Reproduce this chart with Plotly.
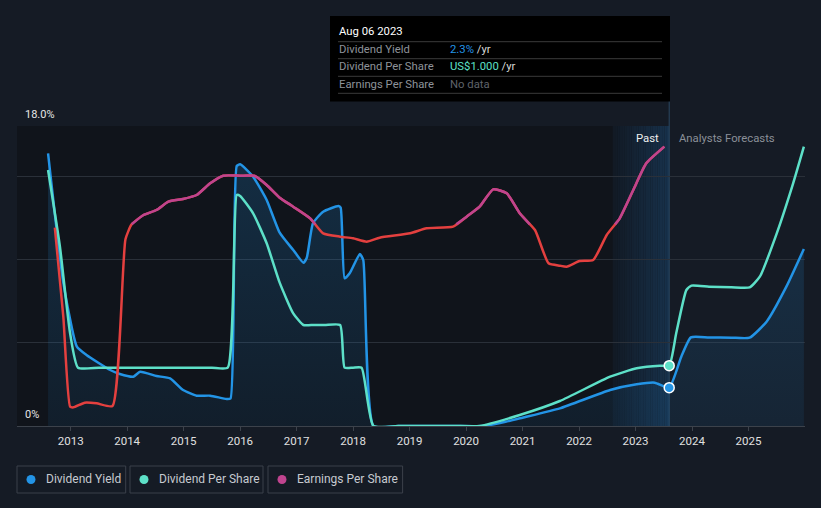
import plotly.graph_objects as go

# ---------------- data ----------------
# Dividend yield (%), past
yield_x = [2012.60, 2012.87, 2013.11, 2013.28, 2013.70, 2013.87, 2014.11, 2014.23, 2014.52,
           2014.76, 2014.99, 2015.23, 2015.47, 2015.76, 2015.83, 2015.94, 2016.00, 2016.23,
           2016.47, 2016.70, 2016.94, 2017.12, 2017.18, 2017.29, 2017.47, 2017.74, 2017.78,
           2017.85, 2017.94, 2018.12, 2018.18, 2018.36, 2018.8, 2019.3, 2019.8, 2020.30,
           2020.70, 2021.00, 2021.66, 2022.55, 2023.02, 2023.34, 2023.596]
yield_y = [16.36, 8.6, 4.76, 4.26, 3.36, 3.12, 2.96, 3.26, 3.0,
           2.86, 2.16, 1.82, 1.82, 1.62, 1.65, 15.6, 15.7, 14.96,
           13.56, 11.6, 10.56, 9.8, 10.1, 12.16, 12.86, 13.2, 13.1,
           8.86, 9.16, 10.32, 9.96, 0.0, 0.0, 0.0, 0.0, 0.0,
           0.25, 0.5, 1.06, 2.16, 2.5, 2.6, 2.3]
# Dividend yield (%), analyst forecast
yield_fc_x = [2023.81, 2023.98, 2024.3, 2024.7, 2025.02, 2025.32, 2025.67, 2025.98]
yield_fc_y = [4.16, 5.32, 5.31, 5.30, 5.30, 6.26, 8.36, 10.62]

# Dividend per share (US$), past
dps_x = [2012.60, 2012.81, 2012.99, 2013.13, 2013.5, 2014.0, 2014.5, 2015.0, 2015.5, 2015.78,
         2015.94, 2016.00, 2016.23, 2016.47, 2016.70, 2016.94, 2017.12, 2017.3, 2017.5, 2017.77,
         2017.85, 2018.0, 2018.15, 2018.36, 2018.8, 2019.3, 2019.8, 2020.24, 2020.95,
         2021.66, 2022.55, 2023.02, 2023.43, 2023.596]
dps_y = [4.243, 2.972, 1.536, 0.967, 0.967, 0.967, 0.967, 0.967, 0.967, 0.967,
         3.829, 3.812, 3.525, 3.028, 2.376, 1.867, 1.674, 1.674, 1.674, 1.674,
         0.967, 0.967, 0.967, 0.0, 0.0, 0.0, 0.0, 0.0, 0.182,
         0.414, 0.818, 0.956, 1.000, 1.000]
# Dividend per share (US$), analyst forecast
dps_fc_x = [2023.72, 2023.90, 2023.99, 2024.3, 2024.7, 2025.02, 2025.20, 2025.50, 2025.79, 2025.98]
dps_fc_y = [1.536, 2.254, 2.326, 2.31, 2.30, 2.298, 2.475, 3.193, 4.022, 4.630]

# Earnings per share (relative chart units)
eps_x = [2012.72, 2012.87, 2012.99, 2013.05, 2013.25, 2013.46, 2013.74, 2013.97, 2014.08,
         2014.29, 2014.52, 2014.73, 2014.99, 2015.23, 2015.47, 2015.70, 2016.00, 2016.26,
         2016.47, 2016.70, 2016.94, 2017.24, 2017.47, 2017.77, 2018.00, 2018.24, 2018.47,
         2019.01, 2019.30, 2019.77, 2020.01, 2020.24, 2020.48, 2020.72, 2020.95, 2021.22,
         2021.46, 2021.66, 2021.78, 2022.01, 2022.25, 2022.49, 2022.72, 2022.96, 2023.19,
         2023.51]
eps_y = [11.9, 6.56, 1.16, 1.12, 1.4, 1.36, 1.2, 11.2, 12.1,
         12.66, 12.96, 13.46, 13.62, 13.86, 14.56, 15.02, 15.02, 15.0,
         14.46, 13.7, 13.16, 12.46, 11.56, 11.36, 11.26, 11.06, 11.3,
         11.56, 11.86, 11.96, 12.56, 13.16, 14.2, 13.96, 12.76, 11.76,
         9.76, 9.62, 9.56, 9.9, 9.96, 11.46, 12.46, 14.16, 15.76,
         16.76]
EPS_COLOR_SPLIT = 12.1

year_ticks = list(range(2013, 2026))
year_labels = [str(y) for y in year_ticks]
y_grid = [0, 5, 10, 15, 18]

now_x = 2023.596
now_yield = 2.3
now_dps = 1.000

# ---------------- styling ----------------
BG = "#151b25"
PAST_BG = "#10141b"
BLUE = "#2394e6"
TEAL = "#5de0c8"
RED = "#e4403f"
MAG = "#c0448f"
FONT = "Roboto"

W, H = 821, 508
L, R, T, B = 17, 805, 126, 426
SMOOTH = 0.5


def px(xp):
    return (xp - L) / (R - L)


def py(yp):
    return (B - yp) / (B - T)


fig = go.Figure()

# yield (past + forecast), filled
yx = yield_x + yield_fc_x
yy = yield_y + yield_fc_y
fig.add_trace(go.Scatter(
    x=yx, y=yy, mode="lines", line=dict(color=BLUE, width=2.5, shape="spline", smoothing=SMOOTH),
    fill="tozeroy",
    fillgradient=dict(type="vertical",
                      colorscale=[[0, "rgba(35,148,230,0.08)"], [1, "rgba(35,148,230,0.2)"]]),
    hoverinfo="skip", showlegend=False))

# dps
fig.add_trace(go.Scatter(
    x=dps_x + dps_fc_x, y=dps_y + dps_fc_y, yaxis="y2", mode="lines",
    line=dict(color=TEAL, width=2.5, shape="spline", smoothing=SMOOTH),
    hoverinfo="skip", showlegend=False))

# eps: red full line + magenta overlay above split
fig.add_trace(go.Scatter(
    x=eps_x, y=eps_y, yaxis="y3", mode="lines",
    line=dict(color=RED, width=2.5, shape="spline", smoothing=SMOOTH),
    hoverinfo="skip", showlegend=False))
mx, my = [], []
for i in range(len(eps_x)):
    if i > 0:
        a, b = eps_y[i - 1], eps_y[i]
        if (a - EPS_COLOR_SPLIT) * (b - EPS_COLOR_SPLIT) < 0:
            t = (EPS_COLOR_SPLIT - a) / (b - a)
            xc = eps_x[i - 1] + t * (eps_x[i] - eps_x[i - 1])
            mx.append(xc)
            my.append(EPS_COLOR_SPLIT)
            if b < EPS_COLOR_SPLIT:
                mx.append(xc)
                my.append(None)
    if eps_y[i] >= EPS_COLOR_SPLIT:
        mx.append(eps_x[i])
        my.append(eps_y[i])
fig.add_trace(go.Scatter(
    x=mx, y=my, yaxis="y3", mode="lines", connectgaps=False,
    line=dict(color=MAG, width=2.5, shape="spline", smoothing=SMOOTH),
    hoverinfo="skip", showlegend=False))

# current markers
fig.add_trace(go.Scatter(x=[now_x], y=[now_dps], yaxis="y2", mode="markers", cliponaxis=False,
                         marker=dict(color=TEAL, size=10, line=dict(color="white", width=1.5)),
                         hoverinfo="skip", showlegend=False))
fig.add_trace(go.Scatter(x=[now_x], y=[now_yield], mode="markers", cliponaxis=False,
                         marker=dict(color=BLUE, size=10, line=dict(color="white", width=1.5)),
                         hoverinfo="skip", showlegend=False))

shapes = []
# past region darker
shapes.append(dict(type="rect", xref="paper", yref="paper", x0=0, x1=px(669.5), y0=0, y1=1,
                   fillcolor=PAST_BG, line_width=0, layer="below"))
# past band gradient
n = 24
x0b, x1b = now_x - 1.0, now_x
c0 = (18, 26, 37)
c1 = (24, 50, 76)
for i in range(n):
    t = (i + 0.5) / n
    c = tuple(int(c0[k] + (c1[k] - c0[k]) * t) for k in range(3))
    shapes.append(dict(type="rect", xref="x", yref="paper",
                       x0=x0b + (x1b - x0b) * i / n, x1=x0b + (x1b - x0b) * (i + 1) / n + 0.002,
                       y0=0, y1=1, fillcolor="rgb(%d,%d,%d)" % c, line_width=0, layer="below"))
# now line
shapes.append(dict(type="line", xref="x", yref="paper", x0=now_x, x1=now_x, y0=0, y1=py(101),
                   line=dict(color="#2b4862", width=1), layer="below"))
# tooltip box
shapes.append(dict(type="rect", xref="paper", yref="paper", x0=px(330), x1=px(670),
                   y0=py(101.5), y1=py(16), fillcolor="#000000", line_width=0, layer="above"))
for yl in [41.7, 58.7, 76.3, 93.3]:
    shapes.append(dict(type="line", xref="paper", yref="paper", x0=px(338), x1=px(662),
                       y0=py(yl), y1=py(yl), line=dict(color="#3a3a3a", width=1), layer="above"))

annotations = []


def ann(text, xp, yp, size=12, color="#ffffff", xanchor="left"):
    annotations.append(dict(text=text, xref="paper", yref="paper", x=px(xp), y=py(yp),
                            xanchor=xanchor, yanchor="middle", showarrow=False,
                            font=dict(family=FONT, size=size, color=color)))


TT = 11.3
ann("Aug 06 2023", 337, 31, size=TT, color="#ffffff")
ann("Dividend Yield", 337, 49.5, size=TT, color="#8e939a")
ann("Dividend Per Share", 337, 66.5, size=TT, color="#8e939a")
ann("Earnings Per Share", 337, 84, size=TT, color="#8e939a")
ann("<span style='color:%s'>2.3%%</span> /yr" % BLUE, 448, 49.5, size=TT, color="#d8d8d8")
ann("<span style='color:%s'>US$1.000</span> /yr" % TEAL, 448, 66.5, size=TT, color="#d8d8d8")
ann("No data", 448, 84, size=TT, color="#5f636a")

# y labels
ann("18.0%", 23, 114.5, size=11, color="#e6e6e6")
ann("0%", 23, 414.5, size=11, color="#e6e6e6")
# past / forecast labels
ann("Past", 661, 138, size=11.3, color="#eeeeee", xanchor="right")
ann("Analysts Forecasts", 677, 138, size=11.3, color="#8b9098")

# legend boxes
legend_items = [("Dividend Yield", BLUE, 17, 125.7), ("Dividend Per Share", TEAL, 130, 263),
                ("Earnings Per Share", MAG, 268, 402.6)]
for name, col, xa, xb in legend_items:
    shapes.append(dict(type="rect", xref="paper", yref="paper", x0=px(xa), x1=px(xb),
                       y0=py(493), y1=py(466), line=dict(color="#3b414a", width=1),
                       fillcolor="rgba(0,0,0,0)", layer="above"))
    cx = xa + 14
    shapes.append(dict(type="circle", xref="paper", yref="paper", x0=px(cx - 4.5), x1=px(cx + 4.5),
                       y0=py(484), y1=py(475), fillcolor=col, line_width=0, layer="above"))
    ann(name, xa + 27, 479.5, size=12, color="#c6cad0")

fig.update_layout(
    width=W, height=H,
    margin=dict(l=L, r=W - R, t=T, b=H - B, pad=0),
    paper_bgcolor=BG, plot_bgcolor=BG,
    font=dict(family=FONT, color="#d8d8d8"),
    showlegend=False,
    shapes=shapes, annotations=annotations,
    xaxis=dict(range=[2012.05, 2026.0], tickvals=year_ticks, ticktext=year_labels,
               showgrid=False, zeroline=False, showline=True, linecolor="#3c424b", linewidth=1,
               ticks="outside", ticklen=4, tickcolor="#3c424b",
               tickfont=dict(family=FONT, size=11.5, color="#e0e0e0"), fixedrange=True),
    yaxis=dict(range=[0, 18], tickvals=y_grid, showticklabels=False, showgrid=True,
               gridcolor="#2a3039", gridwidth=1, zeroline=False, fixedrange=True),
    yaxis2=dict(range=[0, 18 / 3.62], overlaying="y", visible=False, fixedrange=True),
    yaxis3=dict(range=[0, 18], overlaying="y", visible=False, fixedrange=True),
)

fig.write_html("out.html", config={"displayModeBar": False},
               post_script="document.body.style.margin='0px';document.body.style.background='%s';" % BG)
